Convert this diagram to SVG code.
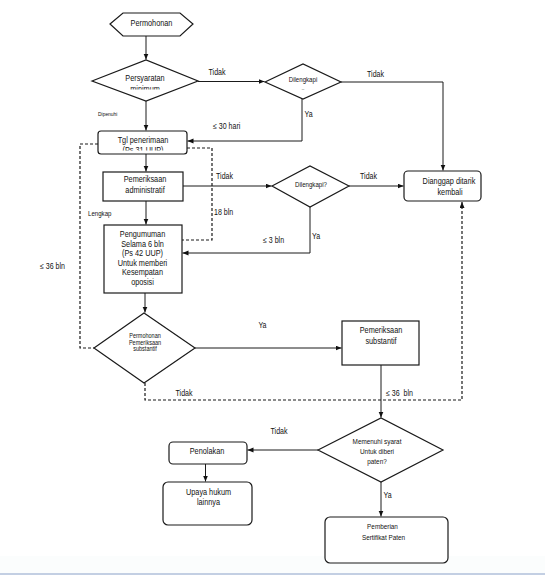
<svg xmlns="http://www.w3.org/2000/svg" width="545" height="575" viewBox="0 0 545 575">
<style>
text{font-family:"Liberation Sans",Arial,sans-serif;fill:#111;}
.t{font-size:8.6px;text-anchor:middle;}
.m{font-size:7.5px;text-anchor:middle;}
.d{font-size:7.2px;text-anchor:middle;}
.xs{font-size:6.5px;text-anchor:middle;}
.l{font-size:8.3px;}
.lm{font-size:8.3px;text-anchor:middle;}
.sm{font-size:7.2px;}
.shape{fill:#fff;stroke:#1a1a1a;stroke-width:1.2;}
.c{fill:none;stroke:#1a1a1a;stroke-width:1;}
.dot{fill:none;stroke:#1a1a1a;stroke-width:1.2;stroke-dasharray:3 2;}
</style>
<defs>
<marker id="a" markerUnits="userSpaceOnUse" markerWidth="7" markerHeight="6" refX="6" refY="2.5" orient="auto"><path d="M0,0 L6,2.5 L0,5 z" fill="#111"/></marker>
<clipPath id="c1"><rect x="80" y="60" width="130" height="29.5"/></clipPath>
<clipPath id="c2"><rect x="260" y="60" width="90" height="29.5"/></clipPath>
<clipPath id="c3"><rect x="90" y="125" width="110" height="25.5"/></clipPath>
</defs>
<rect x="0" y="0" width="545" height="575" fill="#fff"/>
<rect x="0" y="556" width="545" height="17" fill="#fbfdfd"/>
<rect x="0" y="573" width="545" height="2" fill="#c3cfe3"/>

<g id="connectors">
<path class="c" d="M146,36 V59.5" marker-end="url(#a)"/>
<path class="c" d="M146,101 V130.5" marker-end="url(#a)"/>
<path class="c" d="M198,81.5 H264.5" marker-end="url(#a)"/>
<path class="c" d="M341,82 H443 V170.5" marker-end="url(#a)"/>
<path class="c" d="M302,99 V141 H187.5" marker-end="url(#a)"/>
<path class="c" d="M146,154 V171.5" marker-end="url(#a)"/>
<path class="c" d="M183,186 H271.5" marker-end="url(#a)"/>
<path class="c" d="M349,186 H403.5" marker-end="url(#a)"/>
<path class="c" d="M310,207 V253 H182.5" marker-end="url(#a)"/>
<path class="c" d="M146,201 V224.5" marker-end="url(#a)"/>
<path class="dot" d="M187,148 H212 V240 H182"/>
<path class="dot" d="M98,144 H80 V348 H94"/>
<path class="c" d="M145,293 V312.5" marker-end="url(#a)"/>
<path class="c" d="M195,348 H341.5" marker-end="url(#a)"/>
<path class="dot" d="M145,383 V400 H462 V202" marker-end="url(#a)"/>
<path class="c" d="M381,365 V417.5" marker-end="url(#a)"/>
<path class="c" d="M318,450 H247.5" marker-end="url(#a)"/>
<path class="c" d="M205.5,464 V481.5" marker-end="url(#a)"/>
<path class="c" d="M381,482 V516.5" marker-end="url(#a)"/>
<text class="lm" transform="translate(217,75) scale(0.85,1)">Tidak</text>
<text class="lm" transform="translate(375.5,77) scale(0.85,1)">Tidak</text>
<text class="l" transform="translate(304.5,117) scale(0.85,1)">Ya</text>
<text class="sm" style="font-size:5.8px" transform="translate(98,115.5) scale(0.85,1)">Dipenuhi</text>
<text class="l" transform="translate(213,128.5) scale(0.85,1)">≤ 30 hari</text>
<text class="lm" transform="translate(224.5,178.5) scale(0.85,1)">Tidak</text>
<text class="sm" transform="translate(88,215.5) scale(0.85,1)">Lengkap</text>
<text class="l" transform="translate(214,214.5) scale(0.85,1)">18 bln</text>
<text class="lm" transform="translate(368.5,178.5) scale(0.85,1)">Tidak</text>
<text class="l" transform="translate(312,239) scale(0.85,1)">Ya</text>
<text class="l" transform="translate(263,243) scale(0.85,1)">≤ 3 bln</text>
<text class="l" transform="translate(40,269) scale(0.85,1)">≤ 36 bln</text>
<text class="lm" transform="translate(262.5,328) scale(0.85,1)">Ya</text>
<text class="lm" transform="translate(184,395.5) scale(0.85,1)">Tidak</text>
<text class="l" transform="translate(386,395.5) scale(0.85,1)">≤ 36&#160; bln</text>
<text class="lm" transform="translate(279,434) scale(0.85,1)">Tidak</text>
<text class="l" transform="translate(383.5,498) scale(0.85,1)">Ya</text>
</g>

<g id="permohonan">
<polygon class="shape" points="110,24 123,13 180,13 193,24 180,36 123,36"/>
<text class="t" transform="translate(151.5,25.5) scale(0.85,1)">Permohonan</text>
</g>
<g id="persyaratan">
<polygon class="shape" points="92,81 146,60 198,81 146,101"/>
<text class="t" transform="translate(145,80.5) scale(0.85,1)">Persyaratan</text>
<g clip-path="url(#c1)"><text class="t" transform="translate(145,91.5) scale(0.85,1)">minimum</text></g>
</g>
<g id="dilengkapi1">
<polygon class="shape" points="265,82 303,64 341,82 303,99"/>
<text class="d" transform="translate(303,81.5) scale(0.85,1)">Dilengkapi</text>
<g clip-path="url(#c2)"><text class="d" transform="translate(303,94) scale(0.85,1)">?</text></g>
</g>
<g id="tgl">
<rect class="shape" x="98" y="131" width="89" height="23" rx="3"/>
<text class="t" transform="translate(143,143) scale(0.85,1)">Tgl penerimaan</text>
<g clip-path="url(#c3)"><text class="t" transform="translate(143,152.8) scale(0.85,1)">(Ps 31 UUP)</text></g>
</g>
<g id="admin">
<rect class="shape" x="103" y="172" width="80" height="29"/>
<text class="t" transform="translate(145,182.3) scale(0.85,1)">Pemeriksaan</text>
<text class="t" transform="translate(145,193) scale(0.85,1)">administratif</text>
</g>
<g id="dilengkapi2">
<polygon class="shape" points="272,186 310,166 349,186 310,207"/>
<text class="d" transform="translate(311,187) scale(0.85,1)">Dilengkapi?</text>
</g>
<g id="dianggap">
<rect class="shape" x="404" y="171" width="77" height="30" rx="4"/>
<text class="t" transform="translate(449,184) scale(0.85,1)">Dianggap ditarik</text>
<text class="t" transform="translate(450,194.5) scale(0.85,1)">kembali</text>
</g>
<g id="pengumuman">
<rect class="shape" x="104" y="225" width="78" height="68"/>
<text class="t" transform="translate(142.5,237) scale(0.85,1)">Pengumuman</text>
<text class="t" transform="translate(142.5,246.5) scale(0.85,1)">Selama 6 bln</text>
<text class="t" transform="translate(142.5,256) scale(0.85,1)">(Ps 42 UUP)</text>
<text class="t" transform="translate(142.5,265.5) scale(0.85,1)">Untuk memberi</text>
<text class="t" transform="translate(142.5,275) scale(0.85,1)">Kesempatan</text>
<text class="t" transform="translate(142.5,284.5) scale(0.85,1)">oposisi</text>
</g>
<g id="permohonan-substantif">
<polygon class="shape" points="94,348 144,313 195,348 144,383"/>
<text class="xs" transform="translate(145,338) scale(0.85,1)">Permohonan</text>
<text class="xs" transform="translate(145,344.7) scale(0.85,1)">Pemeriksaan</text>
<text class="xs" transform="translate(145,351.4) scale(0.85,1)">substantif</text>
</g>
<g id="substantif">
<rect class="shape" x="342" y="321" width="77" height="44"/>
<text class="t" transform="translate(381,332.5) scale(0.85,1)">Pemeriksaan</text>
<text class="t" transform="translate(381,343.5) scale(0.85,1)">substantif</text>
</g>
<g id="memenuhi">
<polygon class="shape" points="318,450 381,418 443,450 381,482"/>
<text class="m" transform="translate(377,443.5) scale(0.85,1)">Memenuhi syarat</text>
<text class="m" transform="translate(377,453.5) scale(0.85,1)">Untuk diberi</text>
<text class="m" transform="translate(377,463.5) scale(0.85,1)">paten?</text>
</g>
<g id="penolakan">
<rect class="shape" x="169" y="442" width="78" height="22" rx="4"/>
<text class="t" transform="translate(207,454) scale(0.85,1)">Penolakan</text>
</g>
<g id="upaya">
<rect class="shape" x="163" y="482" width="89" height="43" rx="5"/>
<text class="t" transform="translate(208.5,495) scale(0.85,1)">Upaya hukum</text>
<text class="t" transform="translate(208.5,505) scale(0.85,1)">lainnya</text>
</g>
<g id="pemberian">
<rect class="shape" x="325" y="517" width="123" height="46" rx="5"/>
<text class="m" transform="translate(382.5,529) scale(0.85,1)">Pemberian</text>
<text class="m" transform="translate(383.5,540) scale(0.85,1)">Sertifikat Paten</text>
</g>
</svg>
